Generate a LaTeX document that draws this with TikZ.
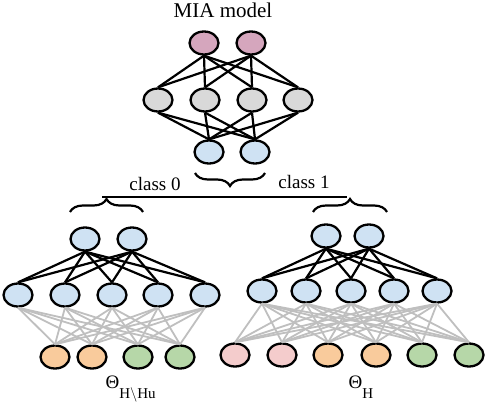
\documentclass[tikz,border=0pt]{standalone}
\usepackage{fontspec}
\setmainfont{Liberation Serif}
\usepackage{amsmath}
\usetikzlibrary{shapes.geometric,decorations.pathreplacing}

\definecolor{mpurple}{HTML}{D5A6BD}
\definecolor{mgrey}{HTML}{D9D9D9}
\definecolor{mblue}{HTML}{CFE2F3}
\definecolor{morange}{HTML}{F9CB9C}
\definecolor{mgreen}{HTML}{B6D7A8}
\definecolor{mpink}{HTML}{F4CCCC}

\begin{document}
\begin{tikzpicture}[x=1pt,y=-1pt,
  neuron/.style={ellipse,draw,line width=2.3pt,minimum width=29pt,minimum height=23pt,inner sep=0pt},
  edge/.style={line width=2.2pt},
  thin edge/.style={line width=1.8pt,draw=black!25},
  brc/.style={line width=2.2pt,decorate,decoration={brace,amplitude=13pt}}]

\useasboundingbox (0,0) rectangle (486,406);

\node[anchor=base] (title) at (223,18){\fontsize{21}{25}\selectfont MIA model};

% MIA model
\node[neuron,fill=mpurple] (p1) at (204,43){};
\node[neuron,fill=mpurple] (p2) at (251,43){};

\node[neuron,fill=mgrey] (g1) at (158,100){};
\node[neuron,fill=mgrey] (g2) at (205,100){};
\node[neuron,fill=mgrey] (g3) at (252,100){};
\node[neuron,fill=mgrey] (g4) at (298,100){};

\node[neuron,fill=mblue] (m1) at (209,152){};
\node[neuron,fill=mblue] (m2) at (255,152){};

\foreach \u in {p1,p2} \foreach \v in {g1,g2,g3,g4} \draw[edge](\u.south)--(\v.north);
\foreach \u in {g1,g2,g3,g4} \foreach \v in {m1,m2} \draw[edge](\u.south)--(\v.north);

% braces
\draw[brc](265,173)--(195,173);
\coordinate (tip0) at (102,197);
\coordinate (tip1) at (347,197);
\draw[edge](tip0)--(tip1);
\draw[brc](70,212)--(143,212);
\draw[brc](313,212)--(387,212);

\node[anchor=base] (cls0) at (155,190){\fontsize{19}{23}\selectfont class 0};
\node[anchor=base] (cls1) at (304,188){\fontsize{19}{23}\selectfont class 1};

% left target
\node[neuron,fill=mblue] (a1) at (85,239){};
\node[neuron,fill=mblue] (a2) at (132,239){};

\node[neuron,fill=mblue] (b1) at (18,295){};
\node[neuron,fill=mblue] (b2) at (65,295){};
\node[neuron,fill=mblue] (b3) at (112,295){};
\node[neuron,fill=mblue] (b4) at (158,295){};
\node[neuron,fill=mblue] (b5) at (205,295){};

\node[neuron,fill=morange] (c1) at (55,357){};
\node[neuron,fill=morange] (c2) at (92,357){};
\node[neuron,fill=mgreen] (c3) at (138,357){};
\node[neuron,fill=mgreen] (c4) at (180,357){};

\foreach \u in {a1,a2} \foreach \v in {b1,b2,b3,b4,b5} \draw[edge](\u.south)--(\v.north);
\foreach \u in {b1,b2,b3,b4,b5} \foreach \v in {c1,c2,c3,c4} \draw[thin edge](\u.south)--(\v.north);

\node[anchor=base west] (thl) at (102,388){\fontsize{19}{22}\selectfont Θ\raisebox{-10pt}{\fontsize{15}{18}\selectfont H$\setminus$Hu}};

% right target
\node[neuron,fill=mblue] (d1) at (326,236){};
\node[neuron,fill=mblue] (d2) at (369,236){};

\node[neuron,fill=mblue] (e1) at (262,291){};
\node[neuron,fill=mblue] (e2) at (306,291){};
\node[neuron,fill=mblue] (e3) at (351,291){};
\node[neuron,fill=mblue] (e4) at (394,291){};
\node[neuron,fill=mblue] (e5) at (437,291){};

\node[neuron,fill=mpink] (f1) at (235,355){};
\node[neuron,fill=mpink] (f2) at (282,355){};
\node[neuron,fill=morange] (f3) at (328,355){};
\node[neuron,fill=morange] (f4) at (376,355){};
\node[neuron,fill=mgreen] (f5) at (422,355){};
\node[neuron,fill=mgreen] (f6) at (469,355){};

\foreach \u in {d1,d2} \foreach \v in {e1,e2,e3,e4,e5} \draw[edge](\u.south)--(\v.north);
\foreach \u in {e1,e2,e3,e4,e5} \foreach \v in {f1,f2,f3,f4,f5,f6} \draw[thin edge](\u.south)--(\v.north);

\node[anchor=base west] (thr) at (345,388){\fontsize{19}{22}\selectfont Θ\raisebox{-10pt}{\fontsize{15}{18}\selectfont H}};

\end{tikzpicture}
\end{document}
